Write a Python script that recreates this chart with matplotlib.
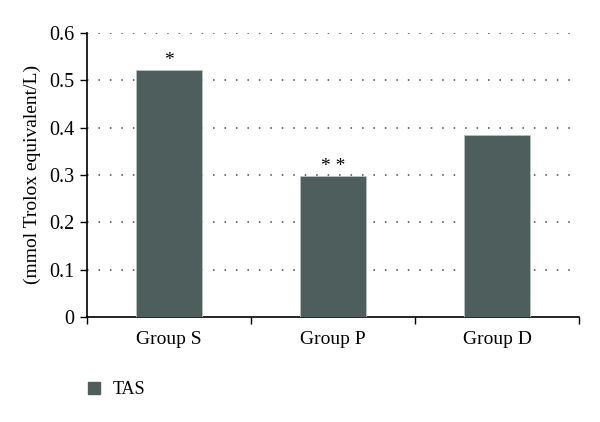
import matplotlib.pyplot as plt
from matplotlib.lines import Line2D
import numpy as np

plt.rcParams['font.family'] = ['Liberation Serif', 'DejaVu Serif']

# data
groups = ["Group S", "Group P", "Group D"]
tas = [0.522, 0.297, 0.385]
marks = ["*", "* *", ""]
yticks = [0, 0.1, 0.2, 0.3, 0.4, 0.5, 0.6]

bar_color = '#4d5e5c'

fig = plt.figure(figsize=(6, 4.22), dpi=100)
ax = fig.add_axes([0.145, 0.249, 0.82, 0.673])

x = np.arange(len(groups))
ax.bar(x, tas, width=0.4, color=bar_color, edgecolor='#b8c4c2', linewidth=0.6, zorder=3)

for xi, v, m in zip(x, tas, marks):
    if m:
        ax.text(xi, v + 0.002, m, ha='center', va='bottom', fontsize=14, zorder=4)

ax.set_xlim(-0.5, len(groups) - 0.5)
ax.set_ylim(0, 0.6)
ax.set_yticks(yticks)
ax.set_yticklabels(["0"] + ["%.1f" % t for t in yticks[1:]], fontsize=14.5)

# ticks at category boundaries, labels at centres
ax.set_xticks(np.arange(-0.5, len(groups)))
ax.set_xticklabels([])
ax.set_xticks(x, minor=True)
ax.set_xticklabels(groups, minor=True, fontsize=14)
ax.tick_params(axis='x', which='major', direction='out', length=5, width=1)
ax.tick_params(axis='x', which='minor', length=0, pad=10)
ax.tick_params(axis='y', direction='out', length=5, width=1, pad=4)

for t in yticks[1:]:
    ax.axhline(t, color='#444444', linestyle=(0, (1, 6.5)), linewidth=1.1, zorder=1)

for s in ['top', 'right']:
    ax.spines[s].set_visible(False)
ax.spines['left'].set_linewidth(1.2)
ax.spines['bottom'].set_linewidth(1.2)

ax.set_ylabel("(mmol Trolox equivalent/L)", fontsize=14, labelpad=6)

handle = Line2D([], [], marker='s', color='none', markerfacecolor=bar_color,
                markeredgecolor=bar_color, markersize=8)
fig.legend([handle], ["TAS"], loc='center left', bbox_to_anchor=(0.115, 0.077),
           frameon=False, fontsize=13, handletextpad=0.5, handlelength=1.0)

fig.savefig("out.png", dpi=100)
